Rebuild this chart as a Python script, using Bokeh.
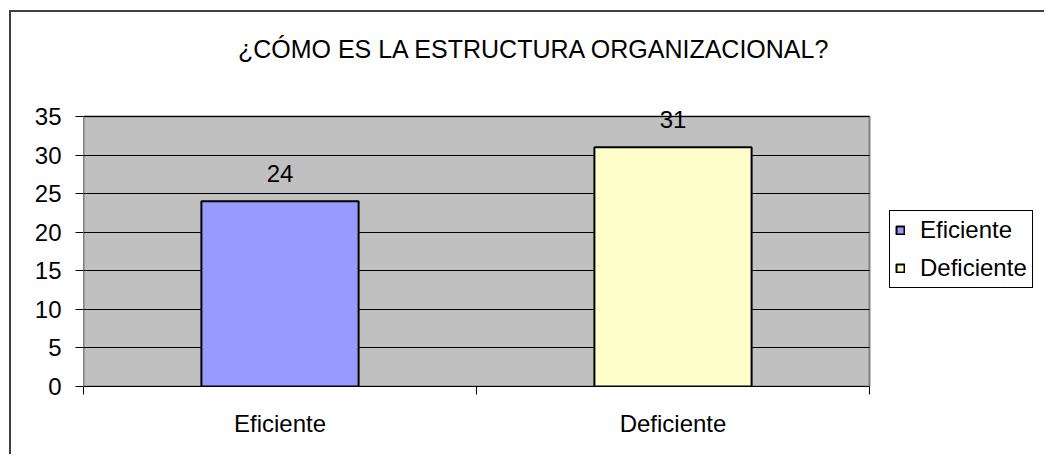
from bokeh.plotting import figure
from bokeh.models import (ColumnDataSource, Range1d, FixedTicker, BoxAnnotation,
                          Legend, LegendItem, LabelSet, Label)
from bokeh.core.properties import value
from bokeh.embed import file_html
from bokeh.resources import INLINE

title_text = "¿CÓMO ES LA ESTRUCTURA ORGANIZACIONAL?"
categories = ["Eficiente", "Deficiente"]
values = [24, 31]
colors = ["#9999FF", "#FFFFCC"]
y_ticks = [0, 5, 10, 15, 20, 25, 30, 35]
y_max = 35

FONT = "Liberation Sans"
FS = "24px"

# layout (pixels)
W, H = 1035, 444
LEFT, BOTTOM = 72, 70
AREA_W, AREA_H = 786, 270          # grey plotting area
n = len(categories)
frame_w, frame_h = W - LEFT, H - BOTTOM
x_end = n * frame_w / AREA_W
y_end = y_max * frame_h / AREA_H

centers = [i + 0.5 for i in range(n)]
src = ColumnDataSource(dict(x=centers, cat=categories, val=values, color=colors,
                            lab=[str(v) for v in values]))

p = figure(x_range=Range1d(0, x_end), y_range=Range1d(0, y_end), width=W, height=H,
           output_backend="svg", toolbar_location=None,
           min_border_left=LEFT, min_border_top=0, min_border_right=0, min_border_bottom=BOTTOM)
p.styles = {"border-left": "2px solid #404040", "border-top": "2px solid #404040",
            "margin-left": "9px", "margin-top": "10px"}

p.background_fill_color = "white"
p.border_fill_color = "white"
p.outline_line_color = None

area = BoxAnnotation(left=0, right=n, bottom=0, top=y_max, fill_color="#C0C0C0", fill_alpha=1,
                     line_color="#808080", line_width=2, line_alpha=1, level="image")
p.add_layout(area)

p.xgrid.grid_line_color = None
p.ygrid.grid_line_color = "black"
p.ygrid.grid_line_width = 1
p.ygrid.ticker = FixedTicker(ticks=y_ticks)
p.ygrid.bounds = (0, y_max)
p.ygrid.cross_bounds = (0, n)

yax = p.yaxis[0]
yax.ticker = FixedTicker(ticks=y_ticks)
yax.bounds = (0, y_max)
yax.axis_line_color = "#808080"
yax.axis_line_width = 1
yax.major_tick_out = 8
yax.major_tick_in = 0
yax.major_tick_line_color = "black"
yax.minor_tick_line_color = None
yax.major_label_text_font = FONT
yax.major_label_text_font_size = FS
yax.major_label_text_color = "black"
yax.major_label_standoff = 14

xax = p.xaxis[0]
xax.ticker = FixedTicker(ticks=centers, minor_ticks=list(range(n + 1)))
xax.bounds = (0, n)
xax.major_label_overrides = {c: lab for c, lab in zip(centers, categories)}
xax.axis_line_color = "black"
xax.axis_line_width = 1
xax.major_tick_line_color = None
xax.major_tick_out = 0
xax.major_tick_in = 0
xax.minor_tick_line_color = "black"
xax.minor_tick_out = 8
xax.minor_tick_in = 0
xax.major_label_text_font = FONT
xax.major_label_text_font_size = FS
xax.major_label_text_color = "black"
xax.major_label_standoff = 15

r = p.vbar(x="x", top="val", width=0.4, fill_color="color", line_color="black",
           line_width=2, source=src)

labels = LabelSet(x="x", y="val", text="lab", source=src, y_offset=19,
                  text_align="center", text_baseline="alphabetic",
                  text_font=value(FONT), text_font_size=FS, text_color="black")
p.add_layout(labels)

# screen units are relative to the plot frame (x from left, y from bottom)
title = Label(x=451, y=338, x_units="screen", y_units="screen", text=title_text,
              text_align="center", text_baseline="alphabetic",
              text_font=FONT, text_font_size="25px", text_color="black")
p.add_layout(title)

items = []
for i, c in enumerate(categories):
    items.append(LegendItem(label=c, renderers=[r], index=i))
legend = Legend(items=items, location=(806, 98))
legend.label_text_font = FONT
legend.label_text_font_size = FS
legend.label_text_color = "black"
legend.glyph_width = 10
legend.glyph_height = 10
legend.label_height = 28
legend.label_standoff = 15
legend.spacing = 10
legend.padding = 5
legend.margin = 0
legend.border_line_color = "black"
legend.border_line_alpha = 1
legend.border_line_width = 1
legend.background_fill_color = "white"
legend.background_fill_alpha = 1
p.add_layout(legend, "center")

open("out.html", "w").write(file_html(p, INLINE))
